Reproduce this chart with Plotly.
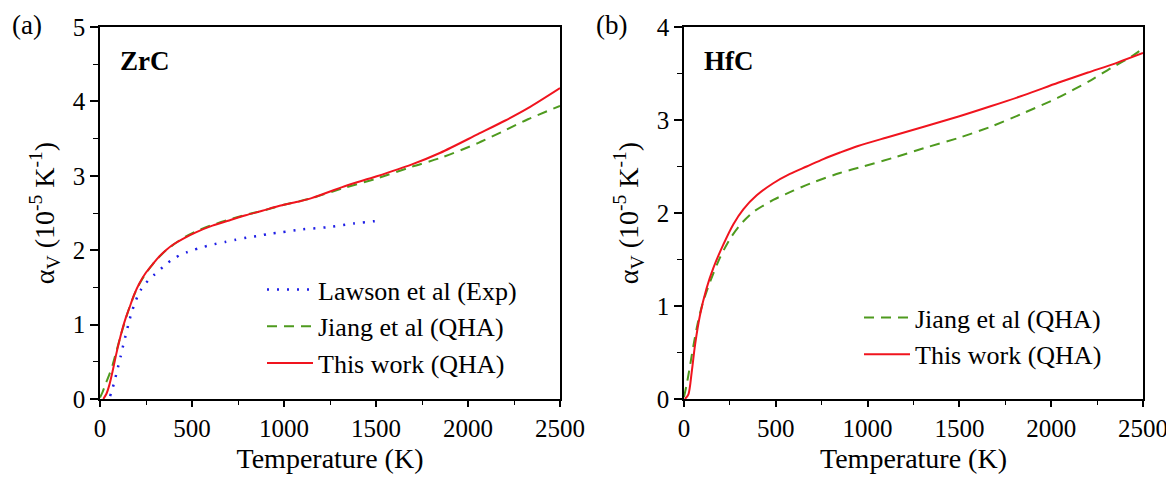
import plotly.graph_objects as go

# ---------------- data ----------------
# (a) ZrC
zrc_this_T = [18, 35, 51, 70, 87, 105, 123, 140, 159, 185, 213, 250, 286, 320, 358, 400, 448, 521, 611,
              702, 792, 882, 967, 1074, 1150, 1330, 1500, 1692, 1850, 2054, 2200, 2326, 2500]
zrc_this_v = [0.0, 0.07, 0.19, 0.39, 0.59, 0.78, 0.95, 1.09, 1.22, 1.40, 1.55, 1.70, 1.81, 1.91, 2.00, 2.08,
              2.15, 2.24, 2.33, 2.40, 2.47, 2.53, 2.59, 2.65, 2.70, 2.86, 2.99, 3.15, 3.31, 3.56, 3.74, 3.91, 4.18]

zrc_jiang_T = [0, 15, 30, 51, 70, 90, 110, 130, 160, 200, 250, 300, 360, 450, 520, 600, 700, 800, 900,
               1000, 1150, 1330, 1500, 1692, 1850, 2054, 2200, 2326, 2500]
zrc_jiang_v = [0.02, 0.10, 0.20, 0.33, 0.47, 0.65, 0.83, 1.00, 1.23, 1.48, 1.69, 1.85, 2.00, 2.16, 2.25,
               2.33, 2.41, 2.48, 2.54, 2.61, 2.70, 2.84, 2.96, 3.12, 3.24, 3.44, 3.61, 3.76, 3.94]

zrc_lawson_T = [55, 68, 82, 97, 112, 126, 140, 154, 168, 185, 204, 225, 250, 272, 295, 318, 340, 362, 385,
                410, 439, 470, 503, 557, 620, 680, 738, 800, 855, 920, 982, 1100, 1239, 1380, 1533]
zrc_lawson_v = [0.04, 0.14, 0.27, 0.42, 0.57, 0.72, 0.86, 1.00, 1.13, 1.26, 1.38, 1.48, 1.56, 1.62, 1.67,
                1.72, 1.77, 1.82, 1.86, 1.90, 1.94, 1.97, 2.00, 2.04, 2.08, 2.11, 2.14, 2.17, 2.19, 2.22,
                2.24, 2.28, 2.31, 2.36, 2.40]

# (b) HfC
hfc_this_T = [5, 24, 42, 60, 87, 123, 160, 214, 269, 323, 396, 486, 577, 668, 759, 850, 948, 1100, 1311,
              1500, 1674, 1856, 2037, 2200, 2364, 2500]
hfc_this_v = [0.0, 0.05, 0.29, 0.58, 0.90, 1.19, 1.41, 1.66, 1.88, 2.04, 2.19, 2.32, 2.42, 2.50, 2.58,
              2.65, 2.72, 2.81, 2.93, 3.04, 3.15, 3.27, 3.40, 3.51, 3.62, 3.72]

hfc_jiang_T = [0, 15, 33, 50, 69, 87, 105, 142, 196, 250, 305, 377, 486, 595, 704, 849, 975, 1150, 1311,
               1500, 1674, 1856, 2037, 2218, 2327, 2436, 2500]
hfc_jiang_v = [0.02, 0.16, 0.36, 0.56, 0.76, 0.92, 1.05, 1.26, 1.52, 1.72, 1.87, 2.01, 2.14, 2.24, 2.33,
               2.43, 2.50, 2.60, 2.70, 2.81, 2.93, 3.08, 3.24, 3.43, 3.56, 3.68, 3.77]

x_ticks = [0, 500, 1000, 1500, 2000, 2500]
zrc_y_ticks = [0, 1, 2, 3, 4, 5]
hfc_y_ticks = [0, 1, 2, 3, 4]

# ---------------- styles ----------------
FONT = "Liberation Serif, Times New Roman, serif"
RED = "#f0141e"
GREEN = "#4e9a1e"
BLUE = "#1f1fe6"

fig = go.Figure()

fig.add_trace(go.Scatter(x=zrc_lawson_T, y=zrc_lawson_v, mode="lines", name="Lawson et al (Exp)",
                         line=dict(color=BLUE, width=2.5, dash="2px,8px", shape="spline", smoothing=0.8),
                         xaxis="x", yaxis="y", legend="legend"))
fig.add_trace(go.Scatter(x=zrc_jiang_T, y=zrc_jiang_v, mode="lines", name="Jiang et al (QHA)",
                         line=dict(color=GREEN, width=2, dash="10px,7px", shape="spline", smoothing=0.8),
                         xaxis="x", yaxis="y", legend="legend"))
fig.add_trace(go.Scatter(x=zrc_this_T, y=zrc_this_v, mode="lines", name="This work (QHA)",
                         line=dict(color=RED, width=2, shape="spline", smoothing=0.8),
                         xaxis="x", yaxis="y", legend="legend"))

fig.add_trace(go.Scatter(x=hfc_jiang_T, y=hfc_jiang_v, mode="lines", name="Jiang et al (QHA)",
                         line=dict(color=GREEN, width=2, dash="10px,7px", shape="spline", smoothing=0.8),
                         xaxis="x2", yaxis="y2", legend="legend2"))
fig.add_trace(go.Scatter(x=hfc_this_T, y=hfc_this_v, mode="lines", name="This work (QHA)",
                         line=dict(color=RED, width=2, shape="spline", smoothing=0.8),
                         xaxis="x2", yaxis="y2", legend="legend2"))

L, R, T, B = 92, 39, 19, 88
W, H = 1174, 479
PW = W - L - R


def xdom(a, b):
    return [(a - L) / PW, (b - L) / PW]


TICKFONT = dict(family=FONT, size=25, color="black")
TITLEFONT = dict(family=FONT, size=28, color="black")

common_x = dict(range=[0, 2500], tickmode="array", tickvals=x_ticks, ticktext=[str(v) for v in x_ticks],
                ticks="outside", ticklen=6, tickwidth=1.5, tickcolor="black",
                linecolor="black", linewidth=1.5, mirror=True, showgrid=False, zeroline=False,
                tickfont=TICKFONT,
                minor=dict(dtick=250, ticks="outside", ticklen=4, tickwidth=1.2, tickcolor="black"))
ytitle = "α<sub>V</sub> (10<sup>-5</sup> K<sup>-1</sup>)"
common_y = dict(tickmode="array", ticks="outside", ticklen=8, tickwidth=1.5, tickcolor="black",
                linecolor="black", linewidth=1.5, mirror=True, showgrid=False, zeroline=False,
                tickfont=TICKFONT,
                minor=dict(dtick=0.5, ticks="outside", ticklen=5, tickwidth=1.2, tickcolor="black"))

fig.update_layout(
    width=W, height=H,
    margin=dict(l=L, r=R, t=T, b=B, autoexpand=False),
    paper_bgcolor="white", plot_bgcolor="white",
    font=dict(family=FONT, size=25, color="black"),
    xaxis=dict(domain=xdom(92, 552), anchor="y",
               title=dict(text="Temperature (K)", font=TITLEFONT, standoff=8), **common_x),
    yaxis=dict(domain=[0, 1], anchor="x", range=[0, 5], tickvals=zrc_y_ticks,
               ticktext=[str(v) for v in zrc_y_ticks],
               title=dict(text=ytitle, font=TITLEFONT, standoff=10), **common_y),
    xaxis2=dict(domain=xdom(676, 1135), anchor="y2",
                title=dict(text="Temperature (K)", font=TITLEFONT, standoff=8), **common_x),
    yaxis2=dict(domain=[0, 1], anchor="x2", range=[0, 4], tickvals=hfc_y_ticks,
                ticktext=[str(v) for v in hfc_y_ticks],
                title=dict(text=ytitle, font=TITLEFONT, standoff=10), **common_y),
    legend=dict(x=(254 - L) / PW, y=(391 - 258) / 372, xanchor="left", yanchor="top",
                bgcolor="rgba(0,0,0,0)", itemwidth=46,
                font=dict(family=FONT, size=26, color="black"), tracegroupgap=0),
    legend2=dict(x=(851 - L) / PW, y=(391 - 286) / 372, xanchor="left", yanchor="top",
                 bgcolor="rgba(0,0,0,0)", itemwidth=46,
                 font=dict(family=FONT, size=26, color="black"), tracegroupgap=0),
    showlegend=True,
)

ann_font = dict(family=FONT, size=27, color="black")
fig.add_annotation(text="(a)", xref="paper", yref="paper", x=(2 - L) / PW, y=(391 - 17) / 372,
                   xanchor="left", yanchor="middle", showarrow=False, font=ann_font)
fig.add_annotation(text="(b)", xref="paper", yref="paper", x=(586 - L) / PW, y=(391 - 17) / 372,
                   xanchor="left", yanchor="middle", showarrow=False, font=ann_font)
fig.add_annotation(text="<b>ZrC</b>", xref="x domain", yref="y domain", x=(110 - 92) / 460,
                   y=(391 - 53) / 372, xanchor="left", yanchor="middle", showarrow=False, font=ann_font)
fig.add_annotation(text="<b>HfC</b>", xref="x2 domain", yref="y2 domain", x=(694 - 676) / 459,
                   y=(391 - 53) / 372, xanchor="left", yanchor="middle", showarrow=False, font=ann_font)

fig.write_html("out.html")
